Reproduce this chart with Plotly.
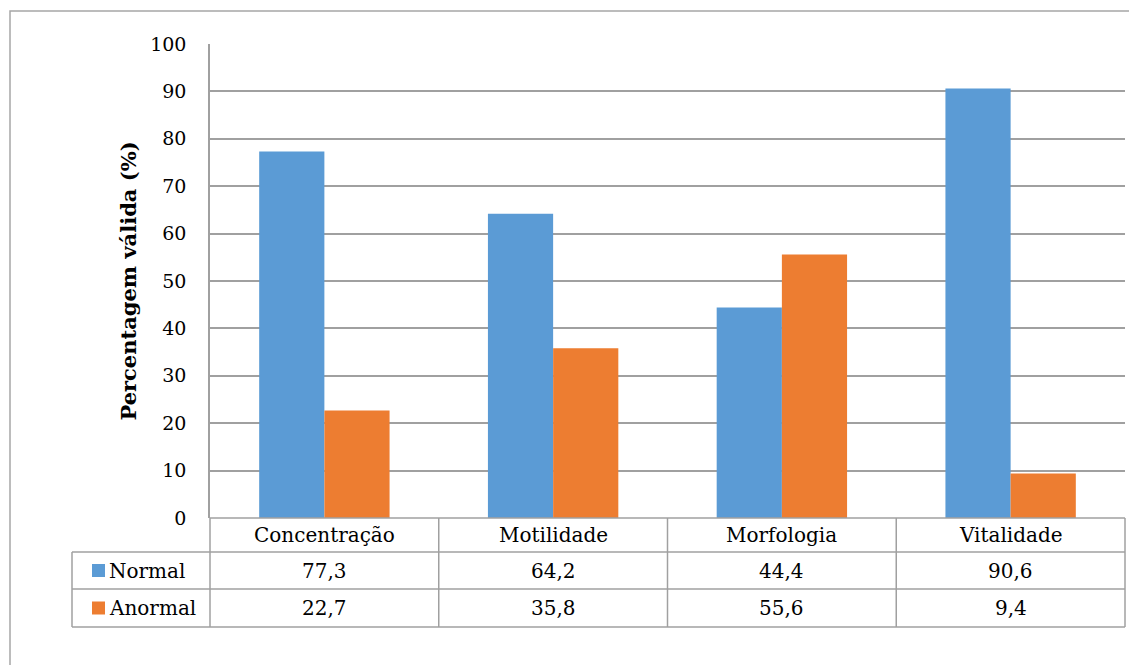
import plotly.graph_objects as go

# Data
categories = ["Concentração", "Motilidade", "Morfologia", "Vitalidade"]
normal = [77.3, 64.2, 44.4, 90.6]
anormal = [22.7, 35.8, 55.6, 9.4]
series_names = ["Normal", "Anormal"]
y_ticks = [0, 10, 20, 30, 40, 50, 60, 70, 80, 90, 100]

BLUE = "#5B9BD5"
ORANGE = "#ED7D31"
GRID = "#A0A0A0"
FONT = "DejaVu Serif"
TXT = dict(family=FONT, size=20, color="#000")

W, H = 1129, 665
ML, MR, MT, MB = 210, 4, 44, 147
PW = W - ML - MR
PH = H - MT - MB


def px_x(x):
    return (x - ML) / PW


def px_y(y):
    return (H - MB - y) / PH


def fmt(v):
    return f"{v:.1f}".replace(".", ",")


fig = go.Figure()
fig.add_trace(go.Bar(x=list(range(len(categories))), y=normal, name=series_names[0],
                     marker=dict(color=BLUE, line=dict(width=0))))
fig.add_trace(go.Bar(x=list(range(len(categories))), y=anormal, name=series_names[1],
                     marker=dict(color=ORANGE, line=dict(width=0))))

shapes = []
annotations = []

# outer chart border
shapes.append(dict(type="rect", xref="paper", yref="paper",
                   x0=px_x(10), x1=px_x(W + 20), y0=px_y(H + 20), y1=px_y(11),
                   line=dict(color="#A6A6A6", width=1.5), fillcolor="rgba(0,0,0,0)"))

# data table below the axis
n = len(categories)
row_edges = [518, 552, 589, 627]
ty = [px_y(r) for r in row_edges]
left = px_x(72)
line_style = dict(color=GRID, width=1.5)
# horizontal rules
shapes.append(dict(type="line", xref="paper", yref="paper", x0=0, x1=1, y0=ty[0], y1=ty[0], line=line_style))
for yy in ty[1:]:
    shapes.append(dict(type="line", xref="paper", yref="paper", x0=left, x1=1, y0=yy, y1=yy, line=line_style))
# vertical rules
shapes.append(dict(type="line", xref="paper", yref="paper", x0=left, x1=left, y0=ty[1], y1=ty[3], line=line_style))
for i in range(n + 1):
    xx = i / n
    shapes.append(dict(type="line", xref="paper", yref="paper", x0=xx, x1=xx, y0=ty[0], y1=ty[3], line=line_style))


def cell_text(x, y, text, xanchor="center"):
    annotations.append(dict(x=x, y=y, xref="paper", yref="paper", text=text, showarrow=False,
                            xanchor=xanchor, yanchor="middle", font=TXT))


row_mid = [(ty[i] + ty[i + 1]) / 2 for i in range(3)]
for i, cat in enumerate(categories):
    cx = (i + 0.5) / n
    cell_text(cx, row_mid[0], cat)
    cell_text(cx, row_mid[1], fmt(normal[i]))
    cell_text(cx, row_mid[2], fmt(anormal[i]))

# legend keys in the table's first column
for k, (name, col) in enumerate(zip(series_names, [BLUE, ORANGE])):
    ym = row_mid[k + 1]
    sq = 6.5 / PH
    shapes.append(dict(type="rect", xref="paper", yref="paper",
                       x0=px_x(92), x1=px_x(105), y0=ym - sq, y1=ym + sq,
                       fillcolor=col, line=dict(width=0)))
    cell_text(px_x(107), ym, name, xanchor="left")

fig.update_layout(
    width=W, height=H,
    margin=dict(l=ML, r=MR, t=MT, b=MB),
    paper_bgcolor="white", plot_bgcolor="white",
    barmode="group", bargap=0.43, bargroupgap=0,
    showlegend=False,
    shapes=shapes, annotations=annotations,
    xaxis=dict(range=[-0.5, n - 0.5], showticklabels=False, showgrid=False, zeroline=False,
               showline=False, ticks=""),
    yaxis=dict(range=[0, 100], tickvals=y_ticks, ticktext=[str(v) for v in y_ticks],
               showgrid=True, gridcolor=GRID, gridwidth=1.5, zeroline=False,
               showline=True, linecolor=GRID, linewidth=1.5, ticks="",
               tickfont=dict(family=FONT, size=19, color="#000"), ticklabelstandoff=18,
               title=dict(text="<b>Percentagem válida (%)</b>", standoff=8,
                          font=dict(family=FONT, size=21, color="#000"))),
)

fig.write_html("out.html")
